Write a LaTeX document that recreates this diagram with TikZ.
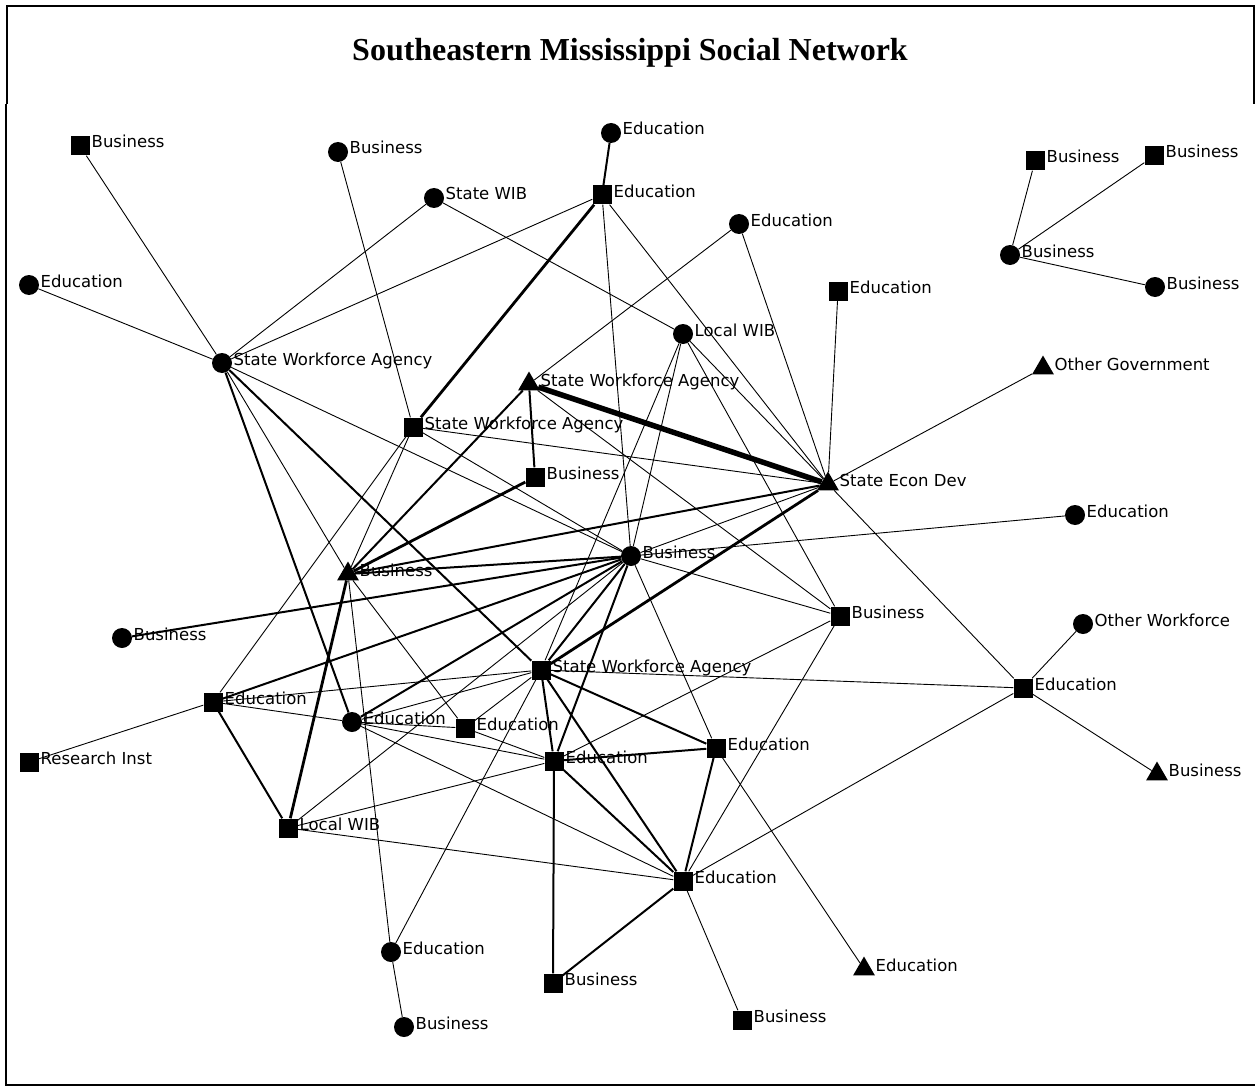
\documentclass[tikz,border=0pt]{standalone}
\usepackage{fontspec}
\usetikzlibrary{shapes.geometric}
\newfontfamily\labfont{DejaVu Sans}
\newfontfamily\titlefont{Liberation Serif}
\pgfdeclarelayer{bg}
\pgfsetlayers{bg,main}
\tikzset{
  sq/.style={rectangle, fill=black, minimum size=19pt, inner sep=0pt},
  ci/.style={circle, fill=black, minimum size=20pt, inner sep=0pt},
  tri/.style={regular polygon, regular polygon sides=3, fill=black, minimum size=25pt, inner sep=0pt},
  lab/.style={anchor=base west, inner sep=0pt, font=\labfont\fontsize{16.5}{18}\selectfont},
  w1/.style={line width=0.9pt},
  w2/.style={line width=2pt},
  w3/.style={line width=2.8pt},
  w5/.style={line width=5.5pt},
}
% actor: name, shape style, x, y, label text
\newcommand\actor[5]{%
  \node[#2] (#1) at (#3,#4) {};
  \node[lab] (#1-l) at (#3+11.5,#4+2) {#5};}
\begin{document}
\begin{tikzpicture}[x=1pt,y=-1pt]
\useasboundingbox (0,0) rectangle (1255,1086);
% frame
\draw[line width=2pt] (7,104) -- (7,6) -- (1254,6) -- (1254,104);
\draw[line width=1.2pt] (6,104) -- (6,1085) -- (1255,1085);
\node[anchor=base, inner sep=0pt, font=\titlefont\bfseries\fontsize{32}{36}\selectfont] (title) at (630,61) {Southeastern Mississippi Social Network};

% actors
\actor{b1}{sq}{80}{146}{Business}
\actor{b2}{ci}{338}{152}{Business}
\actor{swib}{ci}{434}{198}{State WIB}
\actor{e4}{ci}{611}{133}{Education}
\actor{e5}{sq}{602}{195}{Education}
\actor{e6}{ci}{739}{224}{Education}
\actor{e7}{ci}{29}{285}{Education}
\actor{e8}{sq}{838}{291}{Education}
\actor{lwc}{ci}{683}{334}{Local WIB}
\actor{swa}{ci}{222}{363}{State Workforce Agency}
\actor{swb}{tri}{529}{384}{State Workforce Agency}
\actor{swc}{sq}{413}{427}{State Workforce Agency}
\actor{b13}{sq}{535}{477}{Business}
\actor{sed}{tri}{828}{484}{State Econ Dev}
\actor{og}{tri}{1043}{368}{Other Government}
\actor{e16}{ci}{1075}{515}{Education}
\actor{bc}{ci}{631}{556}{Business}
\actor{bt}{tri}{348}{574}{Business}
\actor{b19}{ci}{122}{638}{Business}
\actor{b20}{sq}{840}{616}{Business}
\actor{ow}{ci}{1083}{624}{Other Workforce}
\actor{swf}{sq}{541}{670}{State Workforce Agency}
\actor{e23}{sq}{213}{702}{Education}
\actor{e24}{ci}{352}{722}{Education}
\actor{e25}{sq}{465}{728}{Education}
\actor{e26}{sq}{1023}{688}{Education}
\actor{ri}{sq}{29}{762}{Research Inst}
\actor{eg}{sq}{554}{761}{Education}
\actor{eh}{sq}{716}{748}{Education}
\actor{b30}{tri}{1157}{774}{Business}
\actor{lws}{sq}{288}{828}{Local WIB}
\actor{ei}{sq}{683}{881}{Education}
\actor{e33}{ci}{391}{952}{Education}
\actor{e34}{tri}{864}{969}{Education}
\actor{b35}{sq}{553}{983}{Business}
\actor{b36}{sq}{742}{1020}{Business}
\actor{b37}{ci}{404}{1027}{Business}
\actor{i1}{sq}{1035}{161}{Business}
\actor{i2}{sq}{1154}{156}{Business}
\actor{i3}{ci}{1010}{255}{Business}
\actor{i4}{ci}{1155}{287}{Business}

% ties
\begin{pgfonlayer}{bg}
\draw[w1] (b1) -- (swa);
\draw[w1] (b2) -- (swc);
\draw[w1] (swib) -- (swa);
\draw[w1] (swib) -- (lwc);
\draw[w2] (e4) -- (e5);
\draw[w3] (e5) -- (swc);
\draw[w1] (e5) -- (swa);
\draw[w1] (e5) -- (bc);
\draw[w1] (e5) -- (sed);
\draw[w1] (e6) -- (swb);
\draw[w1] (e6) -- (sed);
\draw[w1] (e7) -- (swa);
\draw[w1] (e8) -- (sed);
\draw[w1] (lwc) -- (sed);
\draw[w1] (lwc) -- (b20);
\draw[w1] (lwc) -- (bc);
\draw[w1] (lwc) -- (swf);
\draw[w1] (swa) -- (bc);
\draw[w2] (swa) -- (swf);
\draw[w2] (swa) -- (e24);
\draw[w1] (swa) -- (bt);
\draw[w5] (swb) -- (sed);
\draw[w2] (swb) -- (b13);
\draw[w2] (swb) -- (bt);
\draw[w1] (swb) -- (b20);
\draw[w1] (swc) -- (sed);
\draw[w1] (swc) -- (bc);
\draw[w1] (swc) -- (e23);
\draw[w1] (swc) -- (bt);
\draw[w3] (bt) -- (b13);
\draw[w3] (bt) -- (lws);
\draw[w2] (bt) -- (bc);
\draw[w2] (bt) -- (sed);
\draw[w1] (bt) -- (e33);
\draw[w1] (bt) -- (e25);
\draw[w2] (bc) -- (b19);
\draw[w2] (bc) -- (e23);
\draw[w2] (bc) -- (e24);
\draw[w2] (bc) -- (swf);
\draw[w2] (bc) -- (eg);
\draw[w1] (bc) -- (eh);
\draw[w1] (bc) -- (b20);
\draw[w1] (bc) -- (sed);
\draw[w1] (bc) -- (e16);
\draw[w1] (bc) -- (lws);
\draw[w3] (swf) -- (sed);
\draw[w2] (swf) -- (eh);
\draw[w2] (swf) -- (ei);
\draw[w2] (swf) -- (eg);
\draw[w1] (swf) -- (e23);
\draw[w1] (swf) -- (e24);
\draw[w1] (swf) -- (e33);
\draw[w1] (swf) -- (e26);
\draw[w1] (swf) -- (e25);
\draw[w1] (e23) -- (ri);
\draw[w2] (e23) -- (lws);
\draw[w1] (e23) -- (e24);
\draw[w1] (e24) -- (eg);
\draw[w1] (e24) -- (ei);
\draw[w1] (e24) -- (e25);
\draw[w1] (e25) -- (eg);
\draw[w1] (lws) -- (eg);
\draw[w1] (lws) -- (ei);
\draw[w2] (eg) -- (eh);
\draw[w2] (eg) -- (ei);
\draw[w2] (eg) -- (b35);
\draw[w1] (eg) -- (b20);
\draw[w2] (eh) -- (ei);
\draw[w1] (eh) -- (e34);
\draw[w2] (ei) -- (b35);
\draw[w1] (ei) -- (b36);
\draw[w1] (ei) -- (e26);
\draw[w1] (ei) -- (b20);
\draw[w1] (e26) -- (sed);
\draw[w1] (e26) -- (ow);
\draw[w1] (e26) -- (b30);
\draw[w1] (og) -- (sed);
\draw[w1] (e33) -- (b37);
\draw[w1] (i3) -- (i1);
\draw[w1] (i3) -- (i2);
\draw[w1] (i3) -- (i4);
\end{pgfonlayer}
\end{tikzpicture}
\end{document}
